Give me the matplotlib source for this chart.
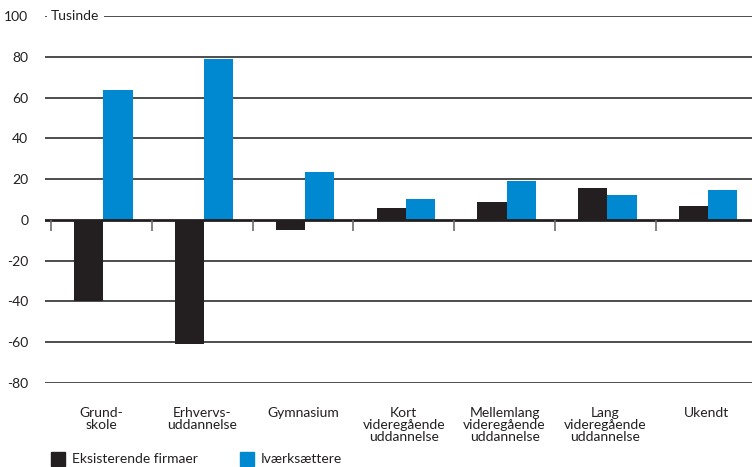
import matplotlib.pyplot as plt
import numpy as np
from matplotlib.patches import Rectangle

plt.rcParams['font.family'] = ['Lato', 'DejaVu Sans']

# data
categories = ["Grund-\nskole", "Erhvervs-\nuddannelse", "Gymnasium",
              "Kort\nvideregående\nuddannelse", "Mellemlang\nvideregående\nuddannelse",
              "Lang\nvideregående\nuddannelse", "Ukendt"]
eksisterende = [-40, -61, -5, 6, 9, 15.5, 7]
ivaerksaettere = [63.7, 79, 23.6, 10, 19, 12, 14.5]
yticks = [-80, -60, -40, -20, 0, 20, 40, 60, 80, 100]

black = '#231f20'
blue = '#0089d1'

fig = plt.figure(figsize=(7.52, 4.67), dpi=100)
ax = fig.add_axes([45 / 752, 84 / 467, 707 / 752, 367 / 467])

x = np.arange(len(categories))
w = 0.29
off = 0.02  # bars sit a touch right of the category centre
ax.bar(x + off - w / 2, eksisterende, w, color=black, zorder=3)
ax.bar(x + off + w / 2, ivaerksaettere, w, color=blue, zorder=3)

# gridlines
for v in yticks:
    if v == 0:
        continue
    ax.axhline(v, color='#4d4d4d', lw=1.4, zorder=1)
ax.axhline(0, color=black, lw=2, zorder=4)

# small tick marks below zero line between categories
for b in np.arange(-0.5, len(categories) - 0.5, 1.0):
    ax.plot([b, b], [0, -5.5], color='#6d6d6d', lw=1.2, zorder=4, solid_capstyle='butt')

ax.set_xlim(-0.56, 6.455)
ax.set_ylim(-80, 100)
ax.set_yticks(yticks)
ax.set_yticklabels([str(v) for v in yticks], fontsize=10, color=black)
ax.set_xticks(x)
ax.set_xticklabels(categories, fontsize=10, color=black, linespacing=1.0)
ax.tick_params(axis='both', length=0)
ax.tick_params(axis='y', pad=12)
ax.tick_params(axis='x', pad=17)
for s in ax.spines.values():
    s.set_visible(False)

ax.text(0.0085, 1.0, "Tusinde", transform=ax.transAxes, fontsize=10, color=black,
        va='center', ha='left', zorder=5,
        bbox=dict(facecolor='white', edgecolor='none', pad=3))

# legend
fig.patches.append(Rectangle((51 / 752, 1 / 467), 14 / 752, 14 / 467,
                             transform=fig.transFigure, color=black))
fig.text(72 / 752, 8 / 467, "Eksisterende firmaer", fontsize=10, color=black, va='center')
fig.patches.append(Rectangle((240 / 752, 1 / 467), 14 / 752, 14 / 467,
                             transform=fig.transFigure, color=blue))
fig.text(261 / 752, 8 / 467, "Iværksættere", fontsize=10, color=black, va='center')

fig.savefig('out.png', dpi=100)
